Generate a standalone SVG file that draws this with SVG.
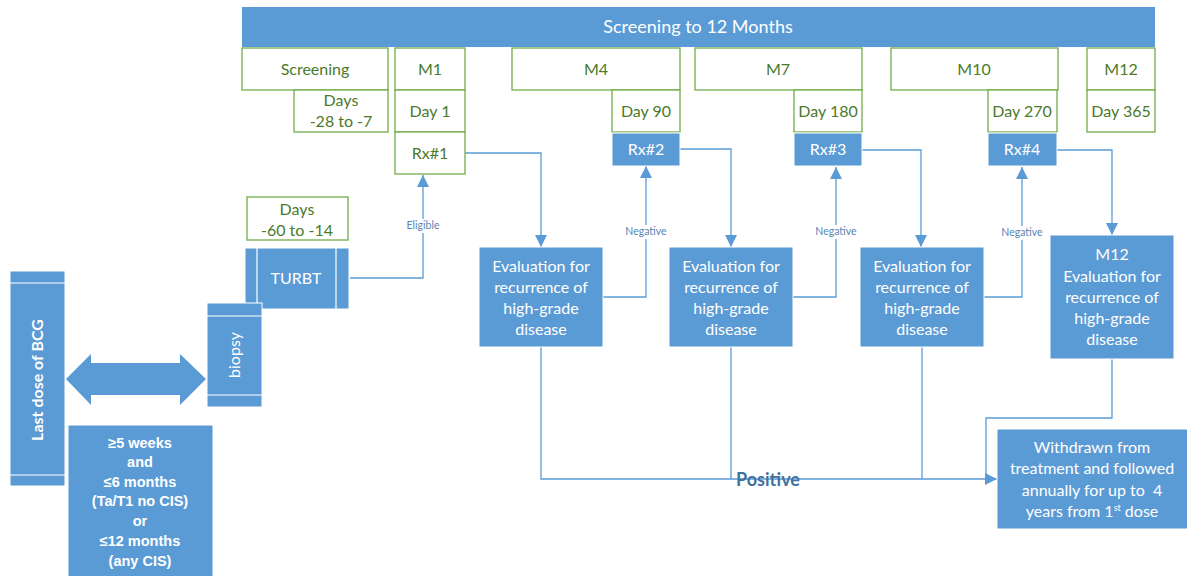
<svg xmlns="http://www.w3.org/2000/svg" width="1187" height="576" viewBox="0 0 1187 576">
<defs>
<style>
.g{fill:#fff;stroke:#70AD47;stroke-width:1.3}
.b{fill:#5B9BD5;stroke:#fff;stroke-width:1}
.gt{font-family:Lato,"Liberation Sans",sans-serif;font-size:16px;fill:#4A7A2A;text-anchor:middle}
.wt{font-family:Lato,"Liberation Sans",sans-serif;font-size:16px;fill:#fff;text-anchor:middle}
.bt{font-family:"Liberation Sans",Arial,sans-serif;font-size:14.5px;font-weight:bold;fill:#fff;text-anchor:middle}
.c{fill:none;stroke:#5B9BD5;stroke-width:1.3}
.lbl{font-family:Lato,"Liberation Sans",sans-serif;font-size:10.5px;fill:#5A84B4;text-anchor:middle}
.il{stroke:#fff;stroke-width:1.2}
</style>
<marker id="ah" markerWidth="12" markerHeight="12" refX="12" refY="6" orient="auto" markerUnits="userSpaceOnUse">
<path d="M0,0 L12,6 L0,12 Z" fill="#5B9BD5"/>
</marker>
</defs>

<g id="connectors">
<path class="c" d="M350,278 H423 V175" marker-end="url(#ah)"/>
<path class="c" d="M465,153 H541 V247" marker-end="url(#ah)"/>
<path class="c" d="M603,297 H646 V166" marker-end="url(#ah)"/>
<path class="c" d="M680,149 H731 V247" marker-end="url(#ah)"/>
<path class="c" d="M793,297 H836 V167" marker-end="url(#ah)"/>
<path class="c" d="M862,150 H921 V247" marker-end="url(#ah)"/>
<path class="c" d="M984,297 H1022 V167" marker-end="url(#ah)"/>
<path class="c" d="M1057,150 H1112 V235" marker-end="url(#ah)"/>
<path class="c" d="M541,347 V479 H997" marker-end="url(#ah)"/>
<path class="c" d="M731,347 V479"/>
<path class="c" d="M922,347 V479"/>
<path class="c" d="M1112,359 V418 H986 V479"/>
<rect x="403" y="219" width="40" height="14" fill="#fff"/>
<text class="lbl" x="423" y="229">Eligible</text>
<rect x="623" y="225" width="46" height="14" fill="#fff"/>
<text class="lbl" x="646" y="235">Negative</text>
<rect x="813" y="225" width="46" height="14" fill="#fff"/>
<text class="lbl" x="836" y="235">Negative</text>
<rect x="999" y="226" width="46" height="14" fill="#fff"/>
<text class="lbl" x="1022" y="236">Negative</text>
<text x="768" y="486" font-family="Lato,'Liberation Sans',sans-serif" font-size="18" font-weight="bold" fill="#41719C" text-anchor="middle">Positive</text>
</g>

<g id="banner">
<rect x="242" y="7" width="913" height="40" fill="#5B9BD5"/>
<text class="wt" x="698" y="33" style="font-size:18px">Screening to 12 Months</text>
</g>

<g id="screening"><rect class="g" x="242" y="48" width="146" height="42"/><text class="gt" x="315" y="75">Screening</text></g>
<g id="days-28"><rect class="g" x="294" y="90" width="94" height="42"/><text class="gt" x="341" y="106">Days</text><text class="gt" x="341" y="127">-28 to -7</text></g>
<g id="m1"><rect class="g" x="395" y="48" width="70" height="42"/><text class="gt" x="430" y="75">M1</text></g>
<g id="day1"><rect class="g" x="395" y="90" width="70" height="42"/><text class="gt" x="430" y="117">Day 1</text></g>
<g id="rx1"><rect class="g" x="395" y="132" width="70" height="42"/><text class="gt" x="430" y="159">Rx#1</text></g>

<g id="m4"><rect class="g" x="512" y="48" width="168" height="42"/><text class="gt" x="596" y="75">M4</text></g>
<g id="day90"><rect class="g" x="612" y="90" width="68" height="42"/><text class="gt" x="646" y="117">Day 90</text></g>
<g id="rx2"><rect class="b" x="612" y="133" width="68" height="33"/><text class="wt" x="646" y="155">Rx#2</text></g>

<g id="m7"><rect class="g" x="695" y="48" width="167" height="42"/><text class="gt" x="778" y="75">M7</text></g>
<g id="day180"><rect class="g" x="794" y="90" width="68" height="42"/><text class="gt" x="828" y="117">Day 180</text></g>
<g id="rx3"><rect class="b" x="794" y="133" width="68" height="33"/><text class="wt" x="828" y="155">Rx#3</text></g>

<g id="m10"><rect class="g" x="891" y="48" width="167" height="42"/><text class="gt" x="974" y="75">M10</text></g>
<g id="day270"><rect class="g" x="988" y="90" width="69" height="42"/><text class="gt" x="1022" y="117">Day 270</text></g>
<g id="rx4"><rect class="b" x="988" y="133" width="69" height="33"/><text class="wt" x="1022" y="155">Rx#4</text></g>

<g id="m12"><rect class="g" x="1087" y="48" width="68" height="42"/><text class="gt" x="1121" y="75">M12</text></g>
<g id="day365"><rect class="g" x="1087" y="90" width="68" height="42"/><text class="gt" x="1121" y="117">Day 365</text></g>

<g id="days-60"><rect class="g" x="247" y="197" width="101" height="43"/><text class="gt" x="297" y="215">Days</text><text class="gt" x="297" y="236">-60 to -14</text></g>

<g id="turbt">
<rect class="b" x="245" y="248" width="104" height="61"/>
<line class="il" x1="257" y1="248" x2="257" y2="309"/>
<line class="il" x1="336" y1="248" x2="336" y2="309"/>
<text class="wt" x="296" y="284">TURBT</text>
</g>

<g id="biopsy">
<rect class="b" x="207" y="303" width="55" height="104"/>
<line class="il" x1="207" y1="316" x2="262" y2="316"/>
<line class="il" x1="207" y1="395" x2="262" y2="395"/>
<text class="wt" transform="translate(240,355) rotate(-90)" x="0" y="0">biopsy</text>
</g>

<g id="last-dose">
<rect class="b" x="10" y="271" width="55" height="215"/>
<line class="il" x1="10" y1="283" x2="65" y2="283"/>
<line class="il" x1="10" y1="475" x2="65" y2="475"/>
<text transform="translate(43,380) rotate(-90)" x="0" y="0" font-family="Lato,'Liberation Sans',sans-serif" font-size="16" font-weight="bold" fill="#fff" text-anchor="middle">Last dose of BCG</text>
</g>

<g id="double-arrow">
<polygon points="66,379 91,354 91,363 180,363 180,354 206,379 180,405 180,395 91,395 91,405" fill="#5B9BD5"/>
</g>

<g id="window">
<rect class="b" x="68" y="425" width="145" height="152"/>
<text class="bt" x="140" y="448">≥5 weeks</text>
<text class="bt" x="140" y="467">and</text>
<text class="bt" x="140" y="487">≤6 months</text>
<text class="bt" x="140" y="506">(Ta/T1 no CIS)</text>
<text class="bt" x="140" y="526">or</text>
<text class="bt" x="140" y="546">≤12 months</text>
<text class="bt" x="140" y="566">(any CIS)</text>
</g>

<g id="eval1"><rect class="b" x="479" y="247" width="124" height="100"/>
<text class="wt" x="541" y="272">Evaluation for</text><text class="wt" x="541" y="293">recurrence of</text><text class="wt" x="541" y="314">high-grade</text><text class="wt" x="541" y="335">disease</text></g>
<g id="eval2"><rect class="b" x="669" y="247" width="124" height="100"/>
<text class="wt" x="731" y="272">Evaluation for</text><text class="wt" x="731" y="293">recurrence of</text><text class="wt" x="731" y="314">high-grade</text><text class="wt" x="731" y="335">disease</text></g>
<g id="eval3"><rect class="b" x="860" y="247" width="124" height="100"/>
<text class="wt" x="922" y="272">Evaluation for</text><text class="wt" x="922" y="293">recurrence of</text><text class="wt" x="922" y="314">high-grade</text><text class="wt" x="922" y="335">disease</text></g>
<g id="eval4"><rect class="b" x="1050" y="235" width="124" height="124"/>
<text class="wt" x="1112" y="260">M12</text><text class="wt" x="1112" y="282">Evaluation for</text><text class="wt" x="1112" y="303">recurrence of</text><text class="wt" x="1112" y="324">high-grade</text><text class="wt" x="1112" y="345">disease</text></g>

<g id="withdrawn"><rect class="b" x="997" y="429" width="195" height="100"/>
<text class="wt" x="1092" y="453">Withdrawn from</text>
<text class="wt" x="1092" y="474">treatment and followed</text>
<text class="wt" x="1092" y="496" style="white-space:pre">annually for up to  4</text>
<text class="wt" x="1092" y="517">years from 1<tspan font-size="9" dy="-6">st</tspan><tspan dy="6"> dose</tspan></text>
</g>
</svg>
